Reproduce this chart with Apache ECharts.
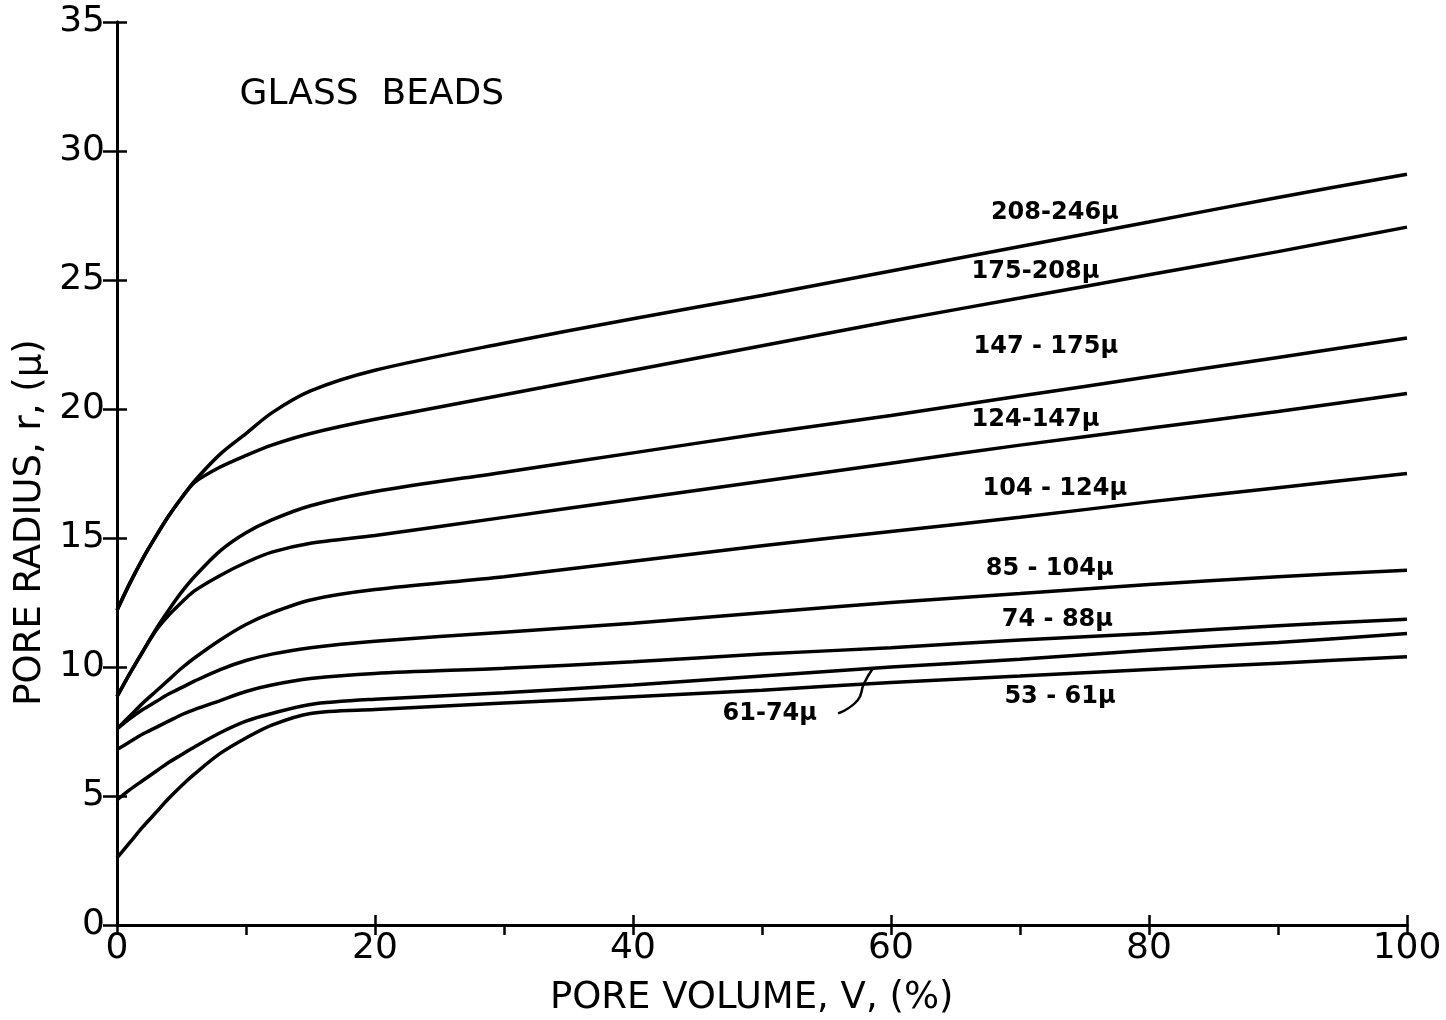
<!DOCTYPE html>
<html>
<head>
<meta charset="UTF-8">
<title>Glass beads - pore radius vs pore volume</title>
<style type="text/css">
  html, body{
    margin:0;
    padding:0;
    background-color:#ffffff;
  }
  #container{
    width:1446px;
    height:1020px;
  }
</style>
</head>
<body>
<div id="container"></div>
<script src="https://cdn.jsdelivr.net/npm/echarts@6/dist/echarts.min.js"></script>
<script type="text/javascript">
// pore volume V (%) at which the curves were read
var poreVolume = [0, 1, 2, 3, 4, 5, 6, 8, 10, 12, 15, 20, 30, 40, 50, 60, 70, 80, 90, 100];

// bead size ranges (curve names)
var sizes = ['208-246μ', '175-208μ', '147 - 175μ', '124-147μ', '104 - 124μ', '85 - 104μ', '74 - 88μ', '61-74μ', '53 - 61μ'];

// pore radius r (μ) for each size range
var r208_246 = [12.2, 13.25, 14.2, 15.05, 15.85, 16.55, 17.2, 18.25, 19.05, 19.85, 20.7, 21.5, 22.55, 23.5, 24.4, 25.35, 26.3, 27.25, 28.2, 29.1];
var r175_208 = [12.2, 13.25, 14.2, 15.05, 15.85, 16.55, 17.15, 17.75, 18.2, 18.6, 19.05, 19.6, 20.55, 21.5, 22.45, 23.4, 24.3, 25.2, 26.1, 27.05];
var r147_175 = [8.85, 9.75, 10.6, 11.45, 12.2, 12.9, 13.5, 14.5, 15.2, 15.7, 16.25, 16.8, 17.55, 18.3, 19.05, 19.75, 20.5, 21.25, 22.0, 22.75];
var r124_147 = [8.85, 9.75, 10.6, 11.4, 12.0, 12.5, 12.95, 13.55, 14.05, 14.45, 14.8, 15.1, 15.8, 16.5, 17.2, 17.9, 18.6, 19.25, 19.9, 20.6];
var r104_124 = [7.6, 8.1, 8.6, 9.05, 9.5, 9.95, 10.35, 11.05, 11.65, 12.1, 12.6, 13.0, 13.5, 14.1, 14.7, 15.25, 15.8, 16.4, 16.95, 17.5];
var r85_104  = [7.6, 8.0, 8.35, 8.65, 8.95, 9.2, 9.45, 9.9, 10.25, 10.5, 10.75, 11.0, 11.35, 11.7, 12.1, 12.5, 12.85, 13.2, 13.5, 13.75];
var r74_88   = [6.8, 7.1, 7.4, 7.65, 7.9, 8.15, 8.35, 8.7, 9.05, 9.3, 9.55, 9.75, 9.95, 10.2, 10.5, 10.75, 11.05, 11.3, 11.6, 11.85];
var r61_74   = [4.85, 5.25, 5.6, 5.95, 6.3, 6.6, 6.9, 7.45, 7.9, 8.2, 8.55, 8.75, 9.0, 9.3, 9.65, 10.0, 10.3, 10.65, 10.95, 11.3];
var r53_61   = [2.6, 3.2, 3.8, 4.35, 4.9, 5.4, 5.85, 6.65, 7.25, 7.75, 8.2, 8.35, 8.6, 8.85, 9.1, 9.4, 9.65, 9.9, 10.15, 10.4];

var curves = [r208_246, r175_208, r147_175, r124_147, r104_124, r85_104, r74_88, r61_74, r53_61];

// where each curve name is written, in data units (V, r)
var labelAt = [[72.7, 27.6], [71.2, 25.3], [72.0, 22.4], [71.2, 19.6], [72.7, 16.9], [72.3, 13.8], [72.9, 11.85], [50.6, 8.2], [73.1, 8.85]];
// leader from the 61-74 label to its curve
var leader = [[55.9, 8.2], [57.4, 8.7], [57.9, 9.35], [58.6, 9.95]];

var FONT = 'DejaVu Sans';

var dom = document.getElementById('container');
var myChart = echarts.init(dom);

function pairs(ys){
  var out = [];
  for (var i = 0; i < poreVolume.length; i++) {
    out.push([poreVolume[i], ys[i]]);
  }
  return out;
}

var series = [];
for (var i = 0; i < curves.length; i++) {
  series.push({
    name: sizes[i],
    type: 'line',
    xAxisIndex: 0,
    yAxisIndex: 0,
    data: pairs(curves[i]),
    smooth: 0.3,
    symbol: 'none',
    lineStyle: { color: '#000', width: 3.5 },
    silent: true
  });
}

var axisLineStyle = { color: '#000', width: 3 };

var option = {
  animation: false,
  backgroundColor: '#fff',
  grid: { left: 117, right: 39, top: 22, bottom: 95 },
  xAxis: [
    {
      type: 'value', position: 'bottom', min: 0, max: 100, interval: 10,
      axisLine: { lineStyle: axisLineStyle },
      axisTick: { inside: false, length: 8, lineStyle: { color: '#000', width: 2.5 } },
      axisLabel: {
        color: '#000', fontFamily: FONT, fontSize: 36, margin: 6,
        formatter: function(v){ return v % 20 === 0 ? String(v) : ''; }
      },
      splitLine: { show: false }
    },
    {
      type: 'value', position: 'bottom', min: 0, max: 100, interval: 20,
      axisLine: { show: false },
      axisTick: { inside: true, length: 10, lineStyle: { color: '#000', width: 2.5 } },
      axisLabel: { show: false },
      splitLine: { show: false }
    },
    {
      type: 'value', position: 'top', min: 0, max: 100, interval: 10,
      axisLine: { lineStyle: axisLineStyle },
      axisTick: { inside: true, length: 10, lineStyle: { color: '#000', width: 2.5 } },
      axisLabel: { show: false },
      splitLine: { show: false }
    }
  ],
  yAxis: [
    {
      type: 'value', position: 'left', min: 0, max: 35, interval: 5,
      axisLine: { lineStyle: axisLineStyle },
      axisTick: { inside: false, length: 10, lineStyle: { color: '#000', width: 2.5 } },
      axisLabel: { color: '#000', fontFamily: FONT, fontSize: 36, margin: 12 },
      splitLine: { show: false }
    },
    {
      type: 'value', position: 'left', min: 0, max: 35, interval: 5,
      axisLine: { show: false },
      axisTick: { inside: true, length: 10, lineStyle: { color: '#000', width: 2.5 } },
      axisLabel: { show: false },
      splitLine: { show: false }
    },
    {
      type: 'value', position: 'right', min: 0, max: 35, interval: 5,
      axisLine: { lineStyle: axisLineStyle },
      axisTick: { inside: true, length: 14, lineStyle: { color: '#000', width: 2.5 } },
      axisLabel: { show: false },
      splitLine: { show: false }
    }
  ],
  series: series
};

myChart.setOption(option, true);

// annotations placed through the chart's own coordinate system
function px(p){ return myChart.convertToPixel({ xAxisIndex: 0, yAxisIndex: 0 }, p); }

var elements = [];
for (var k = 0; k < sizes.length; k++) {
  var p = px(labelAt[k]);
  elements.push({
    type: 'text', x: p[0], y: p[1], silent: true,
    style: {
      text: sizes[k], fill: '#000', fontFamily: FONT, fontSize: 24, fontWeight: 'bold',
      align: 'center', verticalAlign: 'middle'
    }
  });
}

var leaderPts = [];
for (var m = 0; m < leader.length; m++) { leaderPts.push(px(leader[m])); }
elements.push({
  type: 'polyline', silent: true,
  shape: { points: leaderPts, smooth: 0.5 },
  style: { stroke: '#000', lineWidth: 2.5, fill: null }
});

var t = px([9.5, 32.2]);
elements.push({
  type: 'text', x: t[0], y: t[1], silent: true,
  style: { text: 'GLASS  BEADS', fill: '#000', fontFamily: FONT, fontSize: 36, align: 'left', verticalAlign: 'middle' }
});

var xt = px([49.2, 0]);
elements.push({
  type: 'text', x: xt[0], y: xt[1] + 73, silent: true,
  style: { text: 'PORE VOLUME, V, (%)', fill: '#000', fontFamily: FONT, fontSize: 37, align: 'center', verticalAlign: 'middle' }
});

var yt = px([0, 15.6]);
elements.push({
  type: 'text', x: 30, y: yt[1], rotation: Math.PI / 2, silent: true,
  style: { text: 'PORE RADIUS, r, (μ)', fill: '#000', fontFamily: FONT, fontSize: 37, align: 'center', verticalAlign: 'middle' }
});

myChart.setOption({ graphic: { elements: elements } });
</script>
</body>
</html>
